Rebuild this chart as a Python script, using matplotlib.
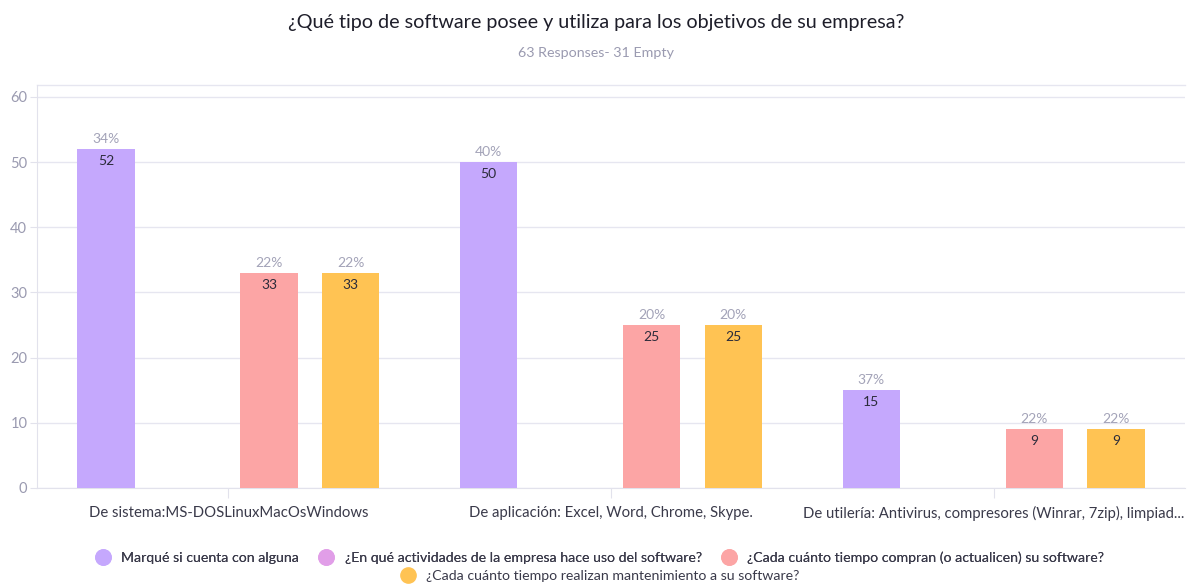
import matplotlib.pyplot as plt
import numpy as np
from matplotlib.lines import Line2D

categories = [
    "De sistema:MS-DOSLinuxMacOsWindows",
    "De aplicación: Excel, Word, Chrome, Skype.",
    "De utilería: Antivirus, compresores (Winrar, 7zip), limpiad...",
]
series_names = [
    "Marqué si cuenta con alguna",
    "¿En qué actividades de la empresa hace uso del software?",
    "¿Cada cuánto tiempo compran (o actualicen) su software?",
    "¿Cada cuánto tiempo realizan mantenimiento a su software?",
]
values = [
    [52, 50, 15],
    [0, 0, 0],
    [33, 25, 9],
    [33, 25, 9],
]
percents = [
    ["34%", "40%", "37%"],
    [None, None, None],
    ["22%", "20%", "22%"],
    ["22%", "20%", "22%"],
]
colors = ["#c5a8fd", "#e19ee8", "#fca5a5", "#ffc353"]

plt.rcParams["font.family"] = ["Lato", "DejaVu Sans"]

fig = plt.figure(figsize=(11.93, 5.87), dpi=100)
ax = fig.add_axes([0.031, 0.1687, 0.9623, 0.6863])

x = np.arange(len(categories))
slot = 0.213
width = 0.15
for i, (name, vals) in enumerate(zip(series_names, values)):
    pos = x + (i - 1.5) * slot
    ax.bar(pos, vals, width=width, color=colors[i], zorder=3)
    for p, v, pct in zip(pos, vals, percents[i]):
        if v == 0:
            continue
        ax.text(p, v + 0.6, pct, ha="center", va="bottom", fontsize=10,
                color="#a3a3b8", zorder=4)
        ax.text(p, v - 0.9, str(v), ha="center", va="top", fontsize=10,
                color="#2b2b3a", zorder=4)

ax.set_xlim(-0.5, 2.5)
ax.set_ylim(0, 61.8)
ax.set_yticks(range(0, 61, 10))
ax.set_xticks(x)
ax.set_xticklabels(categories, fontsize=10.7, color="#3a3a4a")
ax.tick_params(axis="x", length=7, color="#e2e2ec", pad=6)
ax.tick_params(axis="y", length=5, color="#e2e2ec", labelsize=10.5,
               labelcolor="#9a9ab0", pad=2)
ax.grid(axis="y", color="#e6e6f0", linewidth=1, zorder=0)
for side in ["top", "right"]:
    ax.spines[side].set_visible(False)
for side in ["left", "bottom"]:
    ax.spines[side].set_color("#e2e2ec")
ax.plot([-0.5, 2.5], [61.8, 61.8], color="#e6e6f0", lw=1, clip_on=False, zorder=1)

fig.text(0.5, 0.962, "¿Qué tipo de software posee y utiliza para los objetivos de su empresa?",
         ha="center", va="center", fontsize=14.2, color="#1e1e2a")
fig.text(0.5, 0.91, "63 Responses- 31 Empty", ha="center", va="center",
         fontsize=10.3, color="#9a9ab0")

handles = [Line2D([], [], marker="o", linestyle="", markersize=11,
                  markerfacecolor=c, markeredgecolor=c) for c in colors]
leg1 = fig.legend(handles[:3], series_names[:3], loc="center", ncol=3,
                  bbox_to_anchor=(0.5, 0.05), frameon=False, fontsize=10.2,
                  handletextpad=0.3, columnspacing=0.9, labelcolor="#3a3a4a")
fig.legend(handles[3:], series_names[3:], loc="center", ncol=1,
           bbox_to_anchor=(0.5, 0.018), frameon=False, fontsize=10.2,
           handletextpad=0.3, labelcolor="#3a3a4a")
fig.add_artist(leg1)

fig.savefig("out.png", dpi=100)
